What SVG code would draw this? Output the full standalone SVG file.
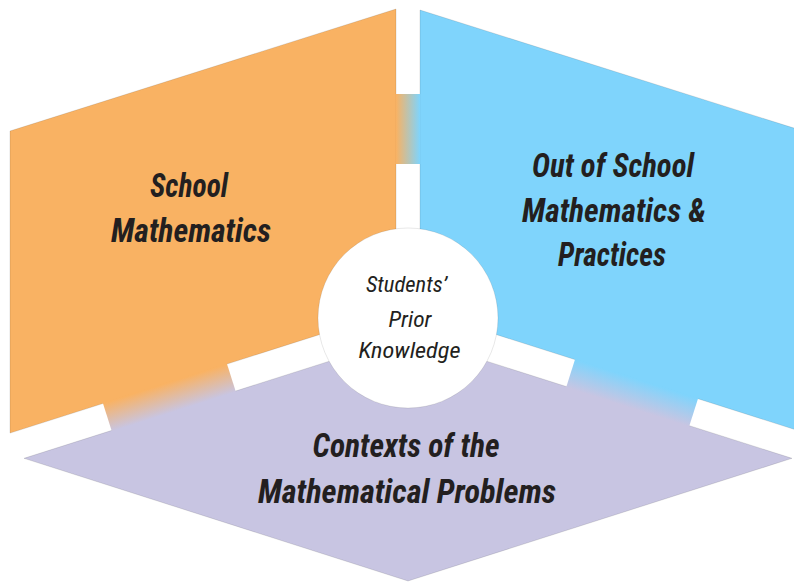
<svg xmlns="http://www.w3.org/2000/svg" width="794" height="584" viewBox="0 0 794 584">
  <style>
    .panel { stroke: #000; stroke-opacity: 0.14; stroke-width: 0.8; }
    .big { font-family: "Liberation Sans Narrow", "Roboto Condensed", "DejaVu Sans Condensed", "Liberation Sans", sans-serif; font-weight: bold; font-style: italic; font-size: 33px; fill: #231F20; text-anchor: middle; }
    .small { font-family: "Liberation Sans Narrow", "Roboto Condensed", "DejaVu Sans Condensed", "Liberation Sans", sans-serif; font-style: italic; font-size: 22px; fill: #231F20; text-anchor: middle; }
  </style>
  <defs>
    <linearGradient id="gV" gradientUnits="userSpaceOnUse" x1="396" y1="0" x2="420" y2="0">
      <stop offset="0" stop-color="#F9B263"/>
      <stop offset="1" stop-color="#7FD4FC"/>
    </linearGradient>
    <linearGradient id="gL" gradientUnits="userSpaceOnUse" x1="165" y1="383.8" x2="173.9" y2="411.7">
      <stop offset="0" stop-color="#F9B263"/>
      <stop offset="1" stop-color="#C8C5E2"/>
    </linearGradient>
    <linearGradient id="gR" gradientUnits="userSpaceOnUse" x1="636" y1="379" x2="627.1" y2="406.9">
      <stop offset="0" stop-color="#7FD4FC"/>
      <stop offset="1" stop-color="#C8C5E2"/>
    </linearGradient>
  </defs>

  <g id="node-school">
    <polygon class="panel" fill="#F9B263" points="10,131 396,9 396,310.3 10,433.1"/>
    <text class="big" x="189" y="197" textLength="78" lengthAdjust="spacingAndGlyphs">School</text>
    <text class="big" x="191" y="242" textLength="160" lengthAdjust="spacingAndGlyphs">Mathematics</text>
  </g>

  <g id="node-out-of-school">
    <polygon class="panel" fill="#7FD4FC" points="420,10 800,130 800,431.2 420,310.3"/>
    <text class="big" x="613" y="177" textLength="162" lengthAdjust="spacingAndGlyphs">Out of School</text>
    <text class="big" x="614" y="222" textLength="184" lengthAdjust="spacingAndGlyphs">Mathematics &amp;</text>
    <text class="big" x="612" y="266" textLength="108" lengthAdjust="spacingAndGlyphs">Practices</text>
  </g>

  <g id="node-contexts">
    <polygon class="panel" fill="#C8C5E2" points="24,458.3 408,336.2 792,458.3 408,581"/>
    <text class="big" x="406" y="457" textLength="187" lengthAdjust="spacingAndGlyphs">Contexts of the</text>
    <text class="big" x="407" y="503" textLength="298" lengthAdjust="spacingAndGlyphs">Mathematical Problems</text>
  </g>

  <g id="gaps">
    <rect x="395.4" y="94" width="25.2" height="70" fill="url(#gV)"/>
    <polygon fill="url(#gL)" points="226.7,363.1 102.7,402.5 112.2,432.4 236.2,393"/>
    <polygon fill="url(#gR)" points="575.3,358.6 698.3,397.7 688.8,427.6 565.8,388.5"/>
  </g>

  <g id="node-prior-knowledge">
    <circle cx="408" cy="318" r="90" fill="#FFFFFF" stroke="#000" stroke-opacity="0.12" stroke-width="0.8"/>
    <text class="small" x="406.5" y="292" textLength="81" lengthAdjust="spacingAndGlyphs">Students’</text>
    <text class="small" x="410" y="327" textLength="43" lengthAdjust="spacingAndGlyphs">Prior</text>
    <text class="small" x="409.5" y="358" textLength="102" lengthAdjust="spacingAndGlyphs">Knowledge</text>
  </g>
</svg>
